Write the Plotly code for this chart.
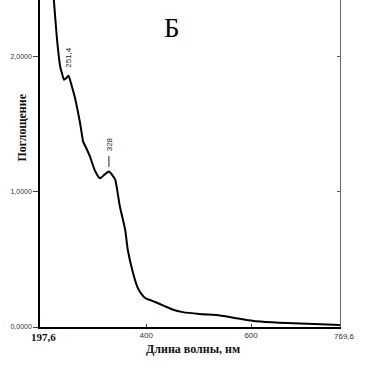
import plotly.graph_objects as go

wavelength = [218, 224, 230, 236, 240, 243.5, 247, 252, 258, 264, 270, 274, 280, 285, 293, 302,
              312, 320, 329, 335, 341, 350, 360, 365, 375, 384, 392, 398, 407, 417, 435, 450, 470,
              502, 541, 569, 604, 640, 668, 720, 769.6]
absorbance = [2.75, 2.42, 2.13, 1.93, 1.87, 1.83, 1.84, 1.86, 1.785, 1.70, 1.59, 1.51, 1.37, 1.33,
              1.26, 1.16, 1.10, 1.126, 1.15, 1.126, 1.09, 0.89, 0.72, 0.57, 0.40, 0.29, 0.24, 0.215,
              0.20, 0.185, 0.155, 0.13, 0.11, 0.096, 0.085, 0.067, 0.045, 0.035, 0.03, 0.022, 0.015]

x_tick_vals = [400, 600]
x_tick_text = ["400", "600"]
y_tick_vals = [0, 1, 2]
y_tick_text = ["0,0000", "1,0000", "2,0000"]
x_min, x_max = 197.6, 769.6
peaks = [(252, 1.889, "251,4", -14.5), (329, 1.185, "328", -22.5)]

fig = go.Figure()
fig.add_trace(go.Scatter(x=wavelength, y=absorbance, mode="lines",
                         line=dict(color="black", width=2, shape="spline", smoothing=0.5),
                         showlegend=False, hoverinfo="skip"))
fig.add_trace(go.Scatter(x=wavelength, y=absorbance, mode="lines", yaxis="y2",
                         line=dict(color="rgba(0,0,0,0)", width=0),
                         showlegend=False, hoverinfo="skip"))

tickfont = dict(family="Liberation Sans, Arial", size=7, color="#333")
fig.update_layout(
    width=375, height=368,
    margin=dict(l=40, r=35, t=0, b=41),
    paper_bgcolor="white", plot_bgcolor="white",
    xaxis=dict(range=[x_min, x_max], tickvals=x_tick_vals, ticktext=x_tick_text, automargin=False,
               ticks="inside", ticklen=3, tickcolor="#444", showgrid=False, zeroline=False,
               showline=True, linecolor="black", linewidth=1.5,
               tickfont=dict(family="Liberation Sans, Arial", size=8, color="#333")),
    yaxis=dict(range=[0, 2.42], tickvals=y_tick_vals, ticktext=y_tick_text, automargin=False,
               ticks="outside", ticklen=5, tickcolor="#444", showgrid=False, zeroline=False,
               showline=True, linecolor="black", linewidth=1.5, tickfont=tickfont),
    yaxis2=dict(range=[0, 2.42], overlaying="y", side="right", tickvals=y_tick_vals,
                showticklabels=False, ticks="inside", ticklen=3, tickcolor="#555", automargin=False,
                showgrid=False, zeroline=False, showline=True, linecolor="#666", linewidth=1),
)

ann = []
for px_, py_, txt, ay in peaks:
    ann.append(dict(x=px_, y=py_, xref="x", yref="y", text=txt, textangle=-90,
                    showarrow=True, arrowhead=0, arrowwidth=1, arrowcolor="#222",
                    ax=0, ay=ay, startstandoff=3,
                    font=dict(family="Liberation Sans, Arial", size=8, color="#222")))
ann += [
    dict(x=0.44, y=0.914, xref="paper", yref="paper", xanchor="center", yanchor="middle",
         text="Б", showarrow=False,
         font=dict(family="Liberation Serif, Times New Roman", size=27, color="black")),
    dict(x=x_min, y=0, xref="x", yref="y", yshift=-10, text="<b>197,6</b>", showarrow=False,
         xshift=3, font=dict(family="Liberation Serif, Times New Roman", size=11, color="#111")),
    dict(x=x_max, y=0, xref="x", yref="y", yshift=-9, xshift=4, text="769,6", showarrow=False,
         font=dict(family="Liberation Sans, Arial", size=8, color="#333")),
    dict(x=0.51, y=-0.067, xref="paper", yref="paper", yanchor="middle", text="<b>Длина волны, нм</b>",
         showarrow=False, font=dict(family="Liberation Serif, Times New Roman", size=12, color="#111")),
    dict(x=-0.09, y=0.61, xref="paper", yref="paper", text="<b>Поглощение</b>", textangle=-90,
         showarrow=False, font=dict(family="Liberation Serif, Times New Roman", size=12, color="#111")),
]
fig.update_layout(annotations=ann)
fig.write_html("out.html", config={"displayModeBar": False},
               post_script="document.body.style.margin='0';document.body.style.overflow='hidden';")
